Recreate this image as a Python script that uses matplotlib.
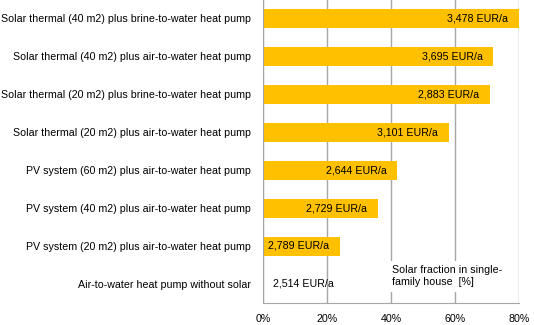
import matplotlib.pyplot as plt

# categories from top to bottom
systems = [
    "Solar thermal (40 m2) plus brine-to-water heat pump",
    "Solar thermal (40 m2) plus air-to-water heat pump",
    "Solar thermal (20 m2) plus brine-to-water heat pump",
    "Solar thermal (20 m2) plus air-to-water heat pump",
    "PV system (60 m2) plus air-to-water heat pump",
    "PV system (40 m2) plus air-to-water heat pump",
    "PV system (20 m2) plus air-to-water heat pump",
    "Air-to-water heat pump without solar",
]
solar_fraction = [80, 72, 71, 58, 42, 36, 24, 0]
costs = ["3,478 EUR/a", "3,695 EUR/a", "2,883 EUR/a", "3,101 EUR/a",
         "2,644 EUR/a", "2,729 EUR/a", "2,789 EUR/a", "2,514 EUR/a"]
xticks = [0, 20, 40, 60, 80]

plt.rcParams['font.family'] = ['Liberation Sans', 'DejaVu Sans']
plt.rcParams['font.size'] = 7.7

fig = plt.figure(figsize=(5.34, 3.25), dpi=100)
ax = fig.add_axes([263 / 534, 22 / 325, 256 / 534, 304 / 325])

grey = '#a6a6a6'
pos = list(range(len(systems)))
ax.barh(pos, solar_fraction, height=0.5, color='#ffc000', zorder=2)
ax.set_ylim(len(systems) - 0.5, -0.5)
ax.set_xlim(0, 80)
ax.set_xticks(xticks)
ax.set_xticklabels(["%d%%" % t for t in xticks])
ax.set_yticks(pos)
ax.set_yticklabels(systems)
ax.tick_params(length=0)
ax.tick_params(axis='y', pad=8.5)
ax.tick_params(axis='x', pad=8)
ax.grid(axis='x', color=grey, lw=1, zorder=0)
for s in ['top', 'right']:
    ax.spines[s].set_visible(False)
for s in ['left', 'bottom']:
    ax.spines[s].set_color(grey)

for i, (v, c) in enumerate(zip(solar_fraction, costs)):
    if v > 0:
        ax.text(v - 3.4, i, c, ha='right', va='center', zorder=3)
    else:
        ax.text(3.0, i, c, ha='left', va='center', zorder=3)

ax.text(40.3, 6.5, "Solar fraction in single-\nfamily house  [%]", ha='left', va='top',
        linespacing=1.3, zorder=3,
        bbox=dict(facecolor='white', edgecolor='none', pad=3))

fig.savefig('out.png', dpi=100)
